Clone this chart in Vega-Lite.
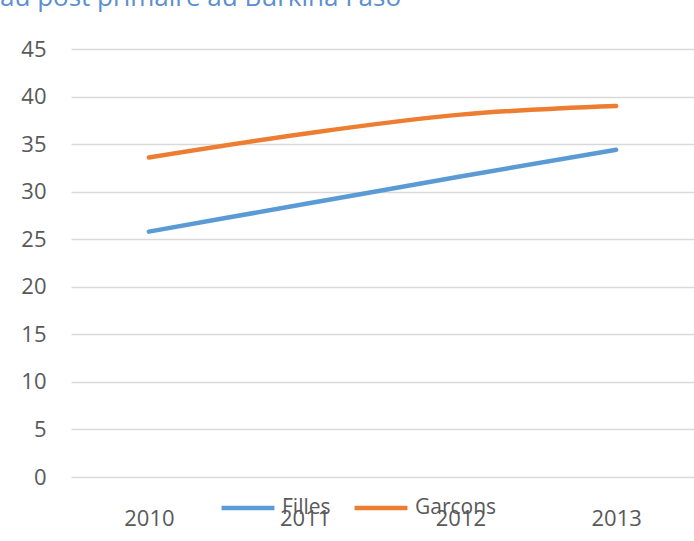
{
  "$schema": "https://vega.github.io/schema/vega-lite/v6.json",
  "width": 623,
  "height": 428,
  "autosize": {"type": "none"},
  "padding": {"left": 71, "top": 49, "right": 0, "bottom": 64},
  "background": "white",
  "title": {
    "text": "au post primaire au Burkina Faso",
    "anchor": "start",
    "frame": "group",
    "dx": -71,
    "baseline": "alphabetic",
    "offset": 6,
    "font": "Open Sans",
    "fontSize": 26,
    "fontWeight": "normal",
    "color": "#5b8fd1"
  },
  "data": {
    "values": [
      {"annee": "2010", "serie": "Filles", "taux": 25.8},
      {"annee": "2011", "serie": "Filles", "taux": 28.7},
      {"annee": "2012", "serie": "Filles", "taux": 31.6},
      {"annee": "2013", "serie": "Filles", "taux": 34.4},
      {"annee": "2010", "serie": "Garcons", "taux": 33.6},
      {"annee": "2011", "serie": "Garcons", "taux": 36.1},
      {"annee": "2012", "serie": "Garcons", "taux": 38.1},
      {"annee": "2013", "serie": "Garcons", "taux": 39.0}
    ]
  },
  "mark": {"type": "line", "strokeWidth": 4.5, "strokeCap": "round", "interpolate": "monotone"},
  "encoding": {
    "x": {
      "field": "annee",
      "type": "ordinal",
      "scale": {"type": "point", "padding": 0.5},
      "axis": {
        "title": null,
        "labelAngle": 0,
        "domain": false,
        "ticks": false,
        "tickSize": 0,
        "grid": false,
        "labelPadding": 31,
        "labelFont": "Open Sans",
        "labelFontSize": 22,
        "labelColor": "#595959"
      }
    },
    "y": {
      "field": "taux",
      "type": "quantitative",
      "scale": {"domain": [0, 45], "nice": false, "zero": true},
      "axis": {
        "title": null,
        "values": [0, 5, 10, 15, 20, 25, 30, 35, 40, 45],
        "domain": false,
        "ticks": false,
        "tickSize": 0,
        "grid": true,
        "gridColor": "#d9d9d9",
        "gridWidth": 1.5,
        "labelPadding": 25,
        "labelFont": "Open Sans",
        "labelFontSize": 22,
        "labelColor": "#595959"
      }
    },
    "color": {
      "field": "serie",
      "type": "nominal",
      "scale": {"domain": ["Filles", "Garcons"], "range": ["#5B9BD5", "#ED7D31"]},
      "legend": {
        "title": null,
        "orient": "none",
        "legendX": 148,
        "legendY": 430,
        "direction": "horizontal",
        "symbolType": "stroke",
        "symbolSize": 2800,
        "symbolStrokeWidth": 4.5,
        "labelOffset": 5,
        "columnPadding": 14,
        "labelFont": "Open Sans",
        "labelFontSize": 21,
        "labelColor": "#595959"
      }
    }
  },
  "config": {"view": {"stroke": null}}
}
